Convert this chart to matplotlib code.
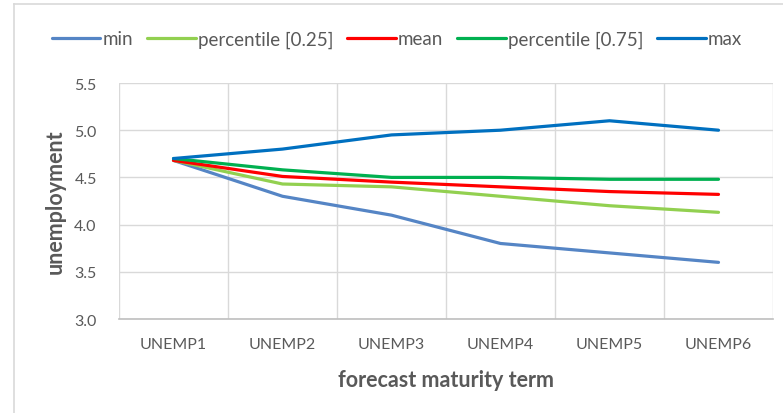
import numpy as np
import matplotlib
matplotlib.use('Agg')
import matplotlib.pyplot as plt
from matplotlib.lines import Line2D

plt.rcParams['font.family'] = ['Lato', 'DejaVu Sans']

terms = ['UNEMP1', 'UNEMP2', 'UNEMP3', 'UNEMP4', 'UNEMP5', 'UNEMP6']
u_min = [4.68, 4.30, 4.10, 3.80, 3.70, 3.60]
u_p25 = [4.68, 4.43, 4.40, 4.30, 4.20, 4.13]
u_mean = [4.68, 4.51, 4.45, 4.40, 4.35, 4.32]
u_p75 = [4.70, 4.58, 4.50, 4.50, 4.48, 4.48]
u_max = [4.70, 4.80, 4.95, 5.00, 5.10, 5.00]

series = [
    ('min', u_min, '#5585C5'),
    ('percentile [0.25]', u_p25, '#92D050'),
    ('mean', u_mean, '#FF0000'),
    ('percentile [0.75]', u_p75, '#00B050'),
    ('max', u_max, '#0070C0'),
]

grey = '#595959'
grid = '#D9D9D9'

fig = plt.figure(figsize=(7.83, 4.14), dpi=100)
ax = fig.add_axes([119/783, 1 - 320/414, (773 - 119)/783, (320 - 84)/414])

x = np.arange(len(terms))
for name, vals, col in series:
    ax.plot(x, vals, color=col, lw=2.3, label=name, solid_capstyle='round')

ax.set_xlim(-0.5, len(terms) - 0.5)
ax.set_ylim(3.0, 5.5)
ax.set_yticks(np.arange(3.0, 5.51, 0.5))
ax.set_yticklabels([f'{v:.1f}' for v in np.arange(3.0, 5.51, 0.5)])
ax.set_xticks(x)
ax.set_xticklabels(terms)
ax.set_xticks(np.arange(-0.5, len(terms)), minor=True)

ax.grid(True, axis='y', which='major', color=grid, lw=1)
ax.grid(True, axis='x', which='minor', color=grid, lw=1)
ax.set_axisbelow(True)
for s in ['top', 'right', 'left']:
    ax.spines[s].set_visible(False)
ax.spines['bottom'].set_color('#BFBFBF')
ax.spines['bottom'].set_linewidth(1.2)

ax.tick_params(axis='both', which='both', length=0, colors=grey, labelsize=11.5)
ax.tick_params(axis='x', pad=13)
ax.tick_params(axis='y', pad=16)

ax.set_xlabel('forecast maturity term', fontsize=15.5, fontweight='bold', color=grey, labelpad=13)
ax.set_ylabel('unemployment', fontsize=15.5, fontweight='bold', color=grey, labelpad=6)

ax.legend(loc='center', bbox_to_anchor=(397/783, 1 - 40/414), bbox_transform=fig.transFigure,
          ncol=5, frameon=False, fontsize=13.5, handlelength=2.6, handletextpad=0.1,
          columnspacing=0.75, labelcolor=grey)

# outer chart border (visible left and top)
fig.add_artist(Line2D([14/783, 14/783], [0, 1 - 5/414], color=grid, lw=1.2, transform=fig.transFigure))
fig.add_artist(Line2D([14/783, 1], [1 - 5/414, 1 - 5/414], color=grid, lw=1.2, transform=fig.transFigure))

fig.savefig('out.png', dpi=100)
